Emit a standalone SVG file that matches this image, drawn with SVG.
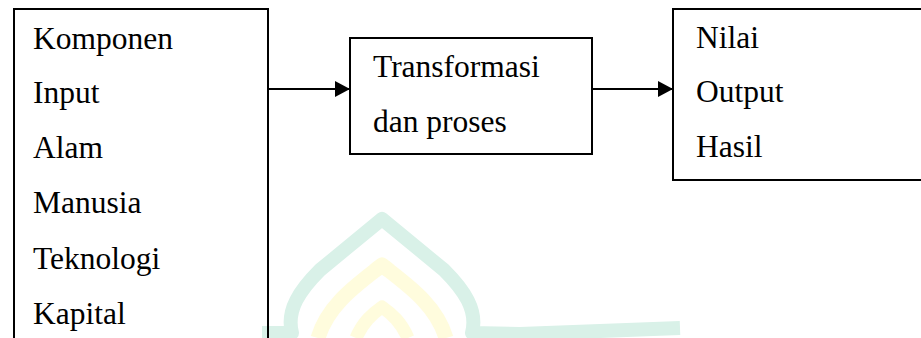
<svg xmlns="http://www.w3.org/2000/svg" width="921" height="338" viewBox="0 0 921 338">
<defs>
<style>
.box{fill:none;stroke:#000;stroke-width:2}
.t{font-family:'Liberation Serif','DejaVu Serif','Noto Serif','Times New Roman',Times,serif;font-size:31.5px;fill:#000}
.wire{stroke:#000;stroke-width:2.2;fill:none}
</style>
<marker id="ah" markerWidth="16" markerHeight="16" refX="15" refY="8" orient="auto" markerUnits="userSpaceOnUse">
<path d="M0,0 L15,8 L0,16 Z" fill="#000"/>
</marker>
</defs>
<rect width="921" height="338" fill="#fff"/>
<g id="watermark" fill="none" stroke-linejoin="round">
<path d="M262 333 L292 333 C286 310 300 290 320 270 L382 219 L444 270 C464 290 478 310 472 333 L520 334 L680 328" stroke="#d9f1e8" stroke-width="14"/>
<path d="M318 338 C328 304 358 284 382 265 C406 284 436 304 446 338" stroke="#fffcdd" stroke-width="15"/>
<path d="M356 338 C363 322 372 314 382 307 C392 314 401 322 408 338" stroke="#fffcdd" stroke-width="13"/>
</g>
<g id="input">
<path class="box" d="M14 339 L14 9 L268 9 L268 339"/>
<text class="t" x="33" y="49">Komponen</text>
<text class="t" x="33" y="103">Input</text>
<text class="t" x="33" y="158">Alam</text>
<text class="t" x="33" y="213">Manusia</text>
<text class="t" x="33" y="269">Teknologi</text>
<text class="t" x="33" y="324">Kapital</text>
</g>
<g id="process">
<rect class="box" x="350" y="38" width="242" height="116"/>
<text class="t" x="373" y="77">Transformasi</text>
<text class="t" x="373" y="132">dan proses</text>
</g>
<g id="output">
<path class="box" d="M922 9 L673 9 L673 180 L922 180"/>
<text class="t" x="696" y="48">Nilai</text>
<text class="t" x="696" y="102">Output</text>
<text class="t" x="696" y="157">Hasil</text>
</g>
<g id="connectors">
<line class="wire" x1="268" y1="89" x2="350" y2="89" marker-end="url(#ah)"/>
<line class="wire" x1="592" y1="89" x2="673" y2="89" marker-end="url(#ah)"/>
</g>
</svg>
